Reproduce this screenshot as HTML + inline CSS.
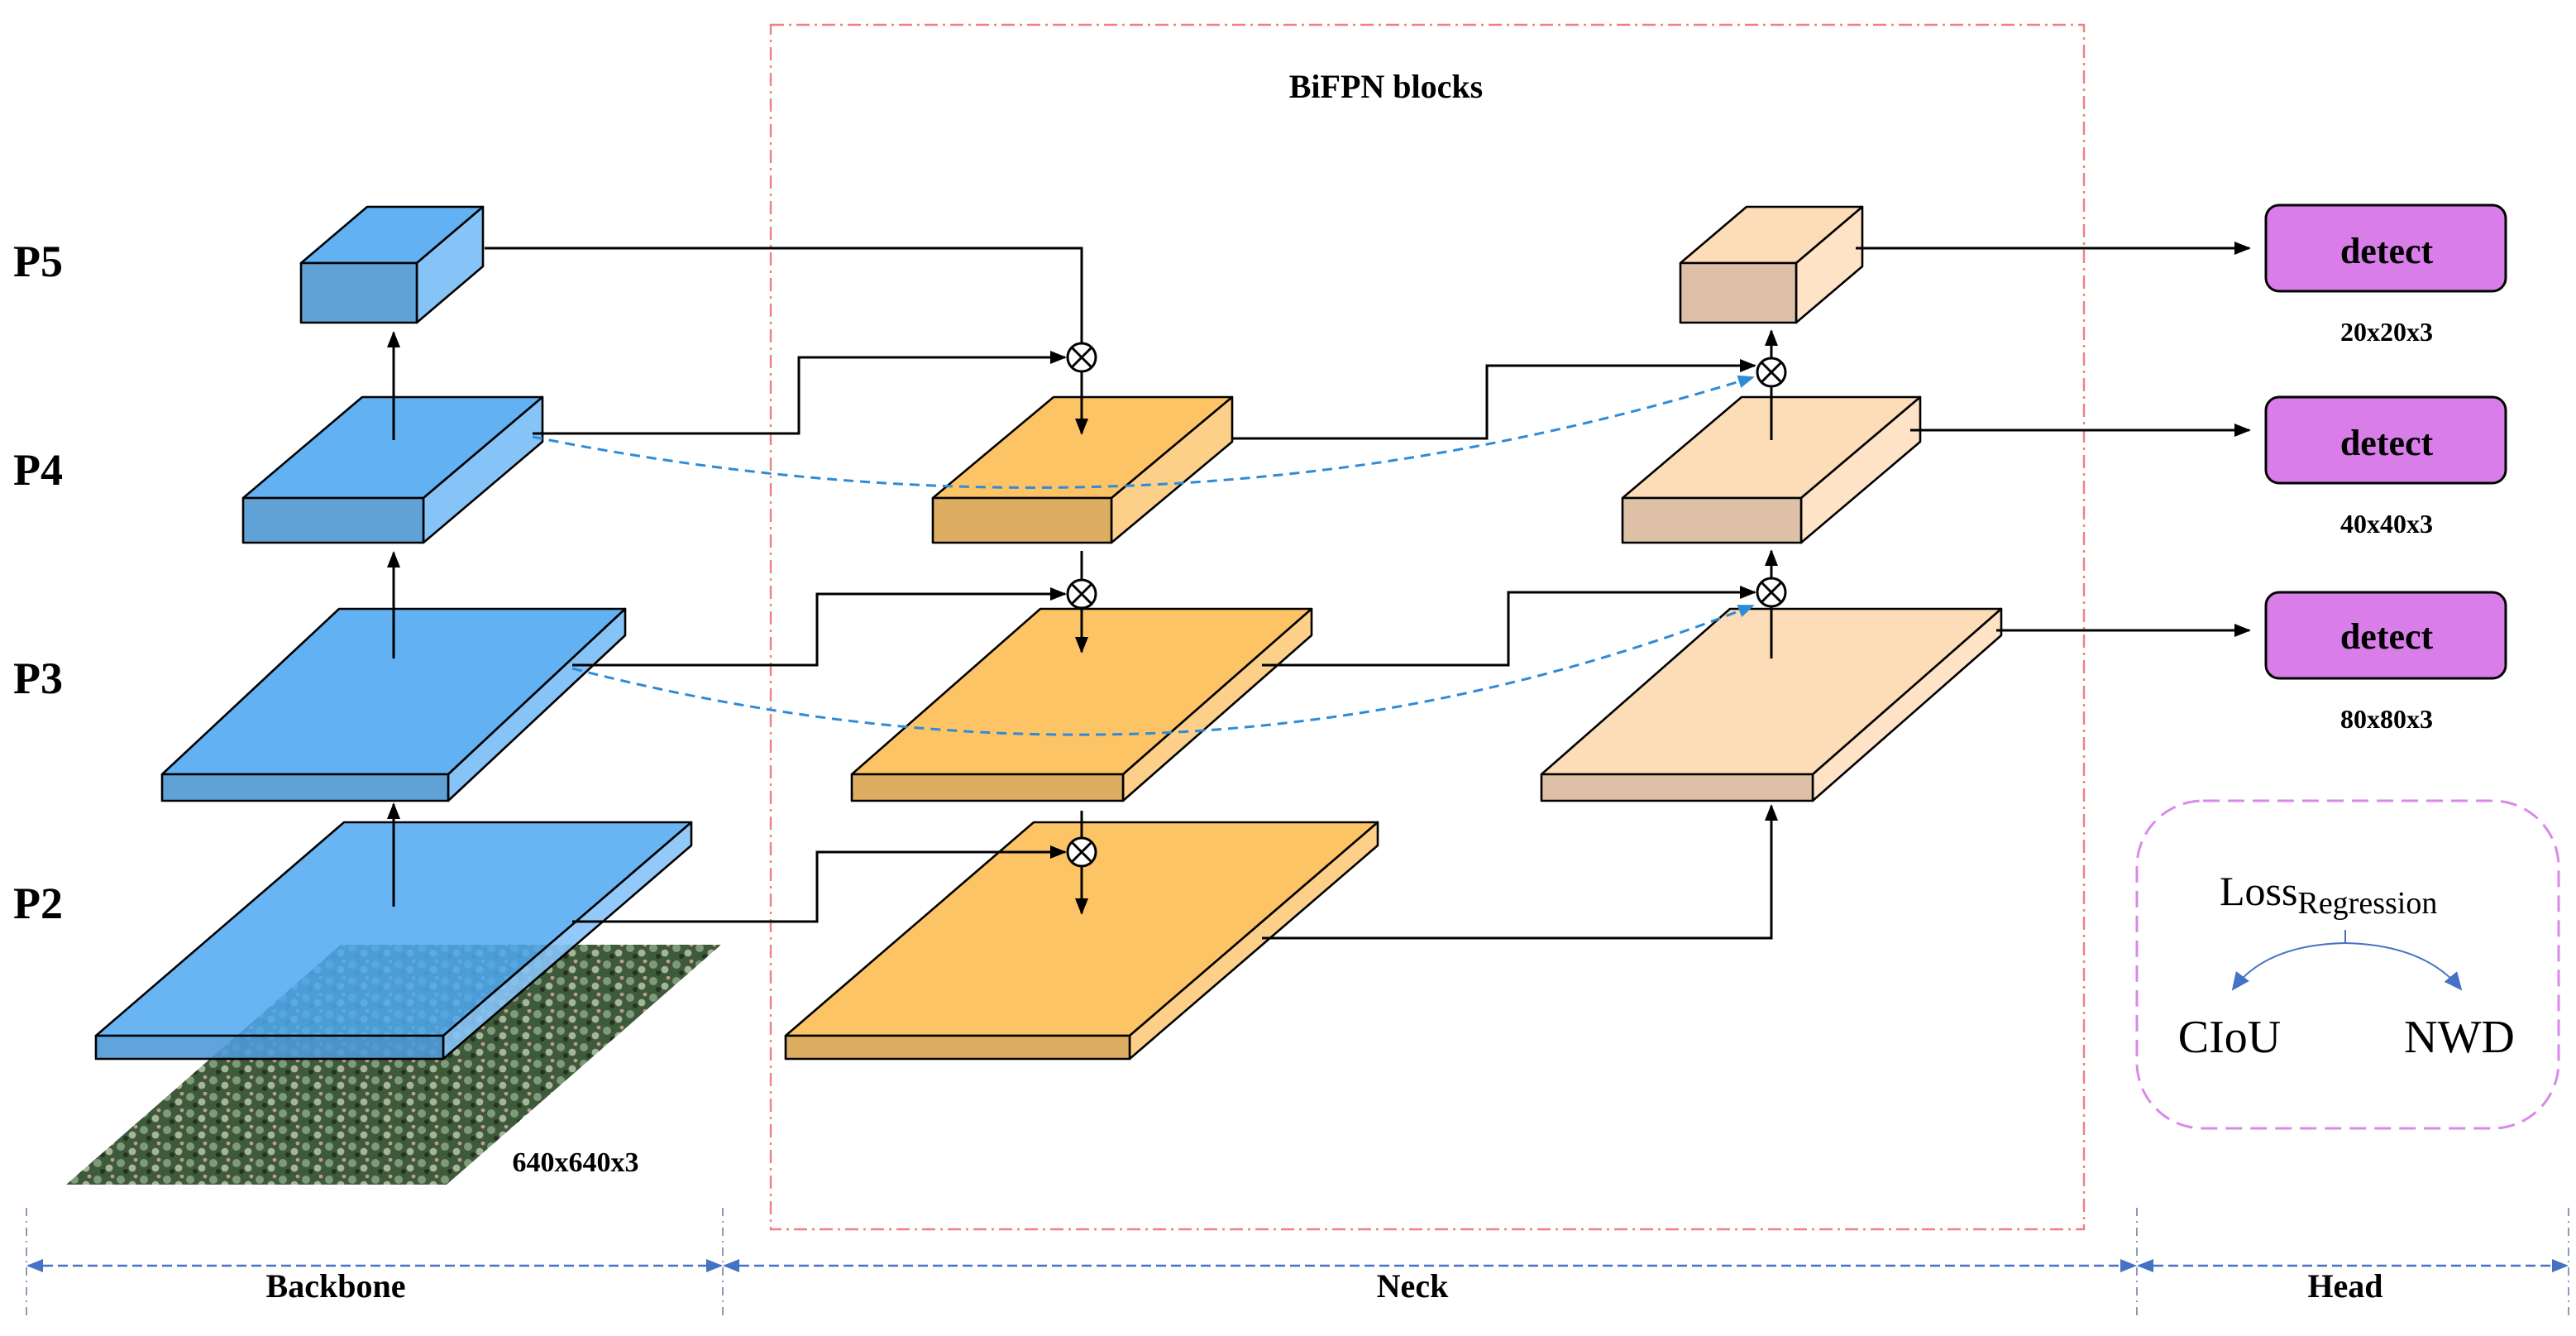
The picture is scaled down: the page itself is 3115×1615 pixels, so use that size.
<!DOCTYPE html>
<html><head><meta charset="utf-8"><style>
html,body{margin:0;padding:0;background:#fff}
svg{display:block}
text{font-family:"Liberation Serif",serif}
.b{font-weight:bold}
</style></head><body>
<svg width="3115" height="1615" viewBox="0 0 1557.5 807.5" xmlns="http://www.w3.org/2000/svg">
<defs>
<marker id="ah" markerWidth="10" markerHeight="10" refX="9" refY="5" orient="auto" markerUnits="userSpaceOnUse"><path d="M0,1 L10,5 L0,9 z" fill="#000"/></marker>
<marker id="ab" markerWidth="10" markerHeight="10" refX="9" refY="5" orient="auto" markerUnits="userSpaceOnUse"><path d="M0,1 L10,5 L0,9 z" fill="#2F8BD8"/></marker>
<marker id="al" markerWidth="12" markerHeight="12" refX="10" refY="6" orient="auto" markerUnits="userSpaceOnUse"><path d="M0,1 L11,6 L0,11 z" fill="#4472C4"/></marker>
<marker id="ad" markerWidth="10" markerHeight="10" refX="9" refY="5" orient="auto-start-reverse" markerUnits="userSpaceOnUse"><path d="M0,1 L10,5 L0,9 z" fill="#4472C4"/></marker>
<pattern id="fol" width="14" height="10" patternUnits="userSpaceOnUse">
<rect width="14" height="10" fill="#3d5a3a"/>
<circle cx="3" cy="3" r="2.5" fill="#7f9a78"/><circle cx="10" cy="6" r="2.2" fill="#a6b49a"/><circle cx="6" cy="8" r="1.5" fill="#23331f"/><circle cx="12" cy="1" r="1.2" fill="#c49a8a"/>
</pattern>
</defs>

<!-- BiFPN frame -->
<rect x="466" y="15" width="794" height="728" fill="none" stroke="#F08080" stroke-width="1.2" stroke-dasharray="8,3,1.5,3"/>
<text x="838" y="59" text-anchor="middle" class="b" font-size="20">BiFPN blocks</text>

<!-- labels -->
<text x="8" y="167" class="b" font-size="27">P5</text>
<text x="8" y="293" class="b" font-size="27">P4</text>
<text x="8" y="419" class="b" font-size="27">P3</text>
<text x="8" y="555" class="b" font-size="27">P2</text>

<!-- image -->
<polygon points="40,716 270,716 436,571 206,571" fill="url(#fol)"/>
<text x="348" y="708" text-anchor="middle" class="b" font-size="17">640x640x3</text>

<g stroke="#000" stroke-width="1.3" stroke-linejoin="round">
<!-- blue -->
<polygon points="182,159 222,125 292,125 252,159" fill="#61B1F3"/>
<polygon points="252,159 292,125 292,161 252,195" fill="#86C3F7"/>
<rect x="182" y="159" width="70" height="36" fill="#60A2D6"/>
<polygon points="147,301 219,240 328,240 256,301" fill="#61B1F3"/>
<polygon points="256,301 328,240 328,267 256,328" fill="#86C3F7"/>
<rect x="147" y="301" width="109" height="27" fill="#60A2D6"/>
<polygon points="98,468 205,368 378,368 271,468" fill="#61B1F3"/>
<polygon points="271,468 378,368 378,384 271,484" fill="#86C3F7"/>
<rect x="98" y="468" width="173" height="16" fill="#60A2D6"/>
<polygon points="58,626 208,497 418,497 268,626" fill="#4FA8F2" fill-opacity="0.85"/>
<polygon points="268,626 418,497 418,511 268,640" fill="#86C3F7" fill-opacity="0.9"/>
<rect x="58" y="626" width="210" height="14" fill="#4E9AD8" fill-opacity="0.9"/>
<!-- orange -->
<polygon points="564,301 637,240 745,240 672,301" fill="#FDC466"/>
<polygon points="672,301 745,240 745,267 672,328" fill="#FDD08A"/>
<rect x="564" y="301" width="108" height="27" fill="#DDAE62"/>
<polygon points="515,468 629,368 793,368 679,468" fill="#FDC466"/>
<polygon points="679,468 793,368 793,384 679,484" fill="#FDD08A"/>
<rect x="515" y="468" width="164" height="16" fill="#DDAE62"/>
<polygon points="475,626 625,497 833,497 683,626" fill="#FDC466"/>
<polygon points="683,626 833,497 833,511 683,640" fill="#FDD08A"/>
<rect x="475" y="626" width="208" height="14" fill="#DDAE62"/>
<!-- peach -->
<polygon points="1016,159 1056,125 1126,125 1086,159" fill="#FDDCB8"/>
<polygon points="1086,159 1126,125 1126,161 1086,195" fill="#FEE3C6"/>
<rect x="1016" y="159" width="70" height="36" fill="#DDC0A6"/>
<polygon points="981,301 1053,240 1161,240 1089,301" fill="#FDDCB8"/>
<polygon points="1089,301 1161,240 1161,267 1089,328" fill="#FEE3C6"/>
<rect x="981" y="301" width="108" height="27" fill="#DDC0A6"/>
<polygon points="932,468 1046,368 1210,368 1096,468" fill="#FDDCB8"/>
<polygon points="1096,468 1210,368 1210,384 1096,484" fill="#FEE3C6"/>
<rect x="932" y="468" width="164" height="16" fill="#DDC0A6"/>
</g>

<!-- connectors -->
<g fill="none" stroke="#000" stroke-width="1.5">
<line x1="238" y1="548" x2="238" y2="486" marker-end="url(#ah)"/>
<line x1="238" y1="398" x2="238" y2="334" marker-end="url(#ah)"/>
<line x1="238" y1="266" x2="238" y2="201" marker-end="url(#ah)"/>
<polyline points="293,150 654,150 654,207"/>
<polyline points="322,262 483,262 483,216 644,216" marker-end="url(#ah)"/>
<line x1="654" y1="225" x2="654" y2="262" marker-end="url(#ah)"/>
<line x1="654" y1="333" x2="654" y2="350"/>
<polyline points="346,402 494,402 494,359 644,359" marker-end="url(#ah)"/>
<line x1="654" y1="368" x2="654" y2="394" marker-end="url(#ah)"/>
<line x1="654" y1="490" x2="654" y2="506"/>
<polyline points="346,557 494,557 494,515 644,515" marker-end="url(#ah)"/>
<line x1="654" y1="524" x2="654" y2="552" marker-end="url(#ah)"/>
<polyline points="745,265 899,265 899,221 1061,221" marker-end="url(#ah)"/>
<line x1="1071" y1="266" x2="1071" y2="234"/>
<line x1="1071" y1="216" x2="1071" y2="200" marker-end="url(#ah)"/>
<polyline points="763,402 912,402 912,358 1061,358" marker-end="url(#ah)"/>
<line x1="1071" y1="398" x2="1071" y2="367"/>
<line x1="1071" y1="350" x2="1071" y2="333" marker-end="url(#ah)"/>
<polyline points="763,567 1071,567 1071,487" marker-end="url(#ah)"/>
<line x1="1122" y1="150" x2="1360" y2="150" marker-end="url(#ah)"/>
<line x1="1155" y1="260" x2="1360" y2="260" marker-end="url(#ah)"/>
<line x1="1207" y1="381" x2="1360" y2="381" marker-end="url(#ah)"/>
</g>
<!-- otimes -->
<g fill="#fff" stroke="#000" stroke-width="1.5">
<g transform="translate(654,216)"><circle r="8.5"/><path d="M-6,-6 L6,6 M6,-6 L-6,6"/></g>
<g transform="translate(654,359)"><circle r="8.5"/><path d="M-6,-6 L6,6 M6,-6 L-6,6"/></g>
<g transform="translate(654,515)"><circle r="8.5"/><path d="M-6,-6 L6,6 M6,-6 L-6,6"/></g>
<g transform="translate(1071,225)"><circle r="8.5"/><path d="M-6,-6 L6,6 M6,-6 L-6,6"/></g>
<g transform="translate(1071,358)"><circle r="8.5"/><path d="M-6,-6 L6,6 M6,-6 L-6,6"/></g>
</g>
<!-- dashed blue curves -->
<g fill="none" stroke="#2F8BD8" stroke-width="1.5" stroke-dasharray="6,4">
<path d="M322,264 Q700,340 1060,228" marker-end="url(#ab)"/>
<path d="M346,404 Q720,500 1060,366" marker-end="url(#ab)"/>
</g>

<!-- detect -->
<g stroke="#000" stroke-width="1.5" fill="#D97EE8">
<rect x="1370" y="124" width="145" height="52" rx="8"/>
<rect x="1370" y="240" width="145" height="52" rx="8"/>
<rect x="1370" y="358" width="145" height="52" rx="8"/>
</g>
<g class="b" text-anchor="middle">
<text x="1443" y="159" font-size="22" class="b">detect</text>
<text x="1443" y="275" font-size="22" class="b">detect</text>
<text x="1443" y="392" font-size="22" class="b">detect</text>
<text x="1443" y="206" font-size="16" class="b">20x20x3</text>
<text x="1443" y="322" font-size="16" class="b">40x40x3</text>
<text x="1443" y="440" font-size="16" class="b">80x80x3</text>
</g>

<!-- loss box -->
<rect x="1292" y="484" width="255" height="198" rx="40" fill="none" stroke="#D98AE8" stroke-width="1.5" stroke-dasharray="10,5"/>
<text x="1342" y="547" font-size="25">Loss<tspan font-size="19" dy="5">Regression</tspan></text>
<line x1="1418" y1="562" x2="1418" y2="570" stroke="#4472C4" stroke-width="1"/>
<path d="M1418,570 Q1370,571 1350,598" fill="none" stroke="#4472C4" stroke-width="1" marker-end="url(#al)"/>
<path d="M1418,570 Q1466,571 1488,598" fill="none" stroke="#4472C4" stroke-width="1" marker-end="url(#al)"/>
<text x="1348" y="636" text-anchor="middle" font-size="28">CIoU</text>
<text x="1487" y="636" text-anchor="middle" font-size="28">NWD</text>

<!-- bottom -->
<g stroke="#8A9AB8" stroke-width="1" stroke-dasharray="5,3,1,3">
<line x1="16" y1="730" x2="16" y2="797"/>
<line x1="437" y1="730" x2="437" y2="797"/>
<line x1="1292" y1="730" x2="1292" y2="797"/>
<line x1="1553" y1="730" x2="1553" y2="797"/>
</g>
<g stroke="#4472C4" stroke-width="1.2" stroke-dasharray="6,3">
<line x1="17" y1="765" x2="436" y2="765" marker-start="url(#ad)" marker-end="url(#ad)"/>
<line x1="438" y1="765" x2="1291" y2="765" marker-start="url(#ad)" marker-end="url(#ad)"/>
<line x1="1293" y1="765" x2="1552" y2="765" marker-start="url(#ad)" marker-end="url(#ad)"/>
</g>
<text x="203" y="784" text-anchor="middle" class="b" font-size="20">Backbone</text>
<text x="854" y="784" text-anchor="middle" class="b" font-size="20">Neck</text>
<text x="1418" y="784" text-anchor="middle" class="b" font-size="20">Head</text>
</svg>
</body></html>
